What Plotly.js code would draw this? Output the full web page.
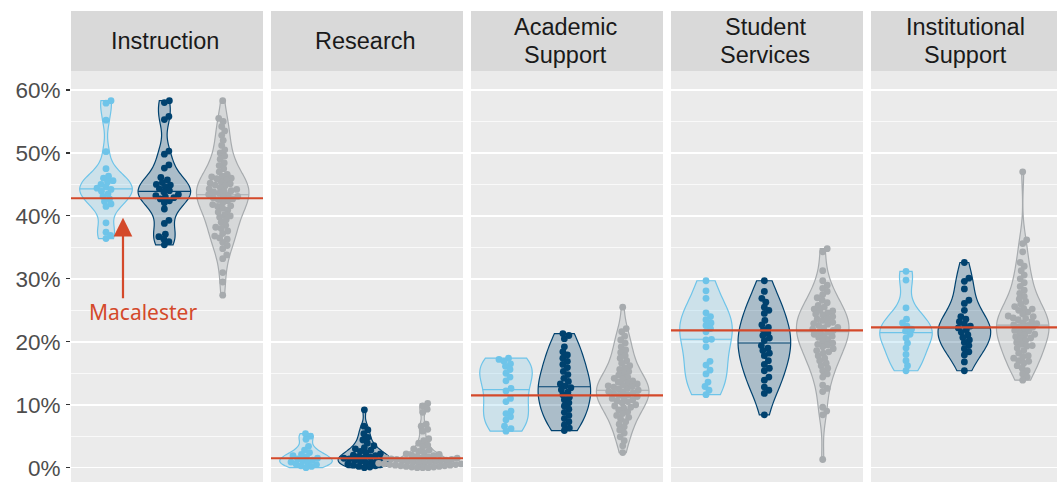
<!DOCTYPE html>
<html>
<head>
<meta charset="utf-8">
<script src="https://cdn.plot.ly/plotly-3.0.1.min.js"></script>
<style>html,body{margin:0;padding:0;background:#fff;}#chart{width:1057px;height:482px;}</style>
</head>
<body>
<div id="chart"></div>
<script>
// ---------------- DATA (percent of spending) ----------------
const categories = ['Instruction', 'Research', 'Academic<br>Support', 'Student<br>Services', 'Institutional<br>Support'];
const macalester = [42.8, 1.5, 11.5, 21.8, 22.3];

const instructionLight = [58.3, 57.9, 55.2, 50.2, 47.5, 46.3, 46.0, 45.6, 45.4, 45.0, 44.6, 44.4, 44.2, 43.9, 43.5, 43.1, 42.7, 42.3, 41.9, 41.5, 38.9, 37.4, 36.9, 36.4];
const instructionDark = [58.3, 58.0, 55.8, 55.3, 50.3, 49.8, 48.1, 47.6, 46.1, 45.7, 45.3, 45.0, 44.9, 44.6, 44.3, 44.0, 43.8, 43.4, 43.2, 43.0, 42.9, 42.7, 42.4, 42.1, 41.1, 39.3, 38.8, 37.1, 36.7, 36.3, 35.9, 35.4];
const instructionGray = [58.3, 55.5, 55.0, 54.2, 53.5, 52.8, 52.0, 51.2, 50.5, 50.0, 49.5, 49.0, 48.4, 48.0, 47.5, 47.0, 46.6, 46.3, 46.0, 45.7, 45.4, 45.1, 44.8, 44.5, 44.2, 43.9, 43.6, 43.3, 43.0, 42.7, 42.4, 42.1, 41.8, 41.5, 41.2, 40.9, 40.6, 40.2, 39.8, 39.4, 39.0, 38.5, 38.0, 37.6, 37.2, 36.8, 36.3, 35.8, 35.3, 34.8, 33.8, 33.2, 31.0, 29.5, 27.4, 46.2, 45.2, 44.9, 44.3, 43.8, 43.1, 42.6, 42.9, 41.6, 45.9, 44.0, 43.4, 40.0, 38.2, 36.5];

const researchLight = [5.4, 5.0, 4.5, 3.4, 2.8, 2.4, 2.1, 1.9, 1.7, 1.5, 1.4, 1.2, 1.1, 0.9, 0.8, 0.6, 0.5, 0.3, 0.2, 0.0];
const researchDark = [9.2, 6.6, 6.0, 5.4, 4.8, 4.4, 3.9, 3.5, 3.2, 3.0, 2.8, 2.6, 2.4, 2.2, 2.0, 1.9, 1.8, 1.7, 1.6, 1.5, 1.4, 1.3, 1.2, 1.1, 1.0, 0.9, 0.8, 0.7, 0.6, 0.5, 0.4, 0.3, 0.2, 0.1, 0.0];
const researchGray = [10.2, 9.8, 9.3, 8.8, 6.9, 6.6, 6.1, 5.8, 4.6, 4.3, 3.9, 3.6, 3.3, 3.0, 2.8, 2.6, 2.4, 2.2, 2.1, 2.0, 1.9, 1.8, 1.7, 1.6, 1.5, 1.5, 1.4, 1.3, 1.3, 1.2, 1.1, 1.1, 1.0, 1.0, 0.9, 0.9, 0.8, 0.8, 0.7, 0.7, 0.6, 0.6, 0.5, 0.5, 0.4, 0.4, 0.3, 0.3, 0.2, 0.2, 0.1, 0.1, 0.0, 0.0, 0.0];

const academicLight = [17.4, 17.2, 16.9, 16.5, 16.1, 15.6, 15.0, 14.4, 13.8, 12.6, 12.2, 11.0, 10.5, 9.0, 8.6, 8.1, 7.6, 6.6, 6.2, 5.8];
const academicDark = [21.3, 21.0, 20.5, 19.2, 18.4, 17.9, 17.4, 16.9, 16.4, 15.9, 15.3, 14.8, 14.2, 13.7, 13.3, 13.0, 12.7, 12.4, 12.0, 11.6, 11.2, 10.8, 10.3, 9.8, 9.3, 8.8, 8.3, 7.8, 7.3, 6.8, 6.3, 5.9];
const academicGray = [25.5, 22.1, 21.6, 20.9, 20.3, 19.8, 19.2, 18.7, 18.3, 17.8, 17.4, 17.0, 16.6, 16.2, 15.9, 15.6, 15.3, 15.0, 14.7, 14.4, 14.1, 13.8, 13.5, 13.3, 13.0, 12.8, 12.5, 12.3, 12.0, 11.8, 11.5, 11.3, 11.0, 10.8, 10.5, 10.3, 10.0, 9.8, 9.5, 9.2, 8.9, 8.6, 8.3, 8.0, 7.7, 7.3, 6.9, 6.5, 6.0, 5.5, 4.9, 4.3, 3.5, 2.4, 12.6, 11.6, 13.1, 12.1, 11.1, 10.6, 13.6, 14.2, 9.6, 12.9, 11.9];

const studentLight = [29.7, 28.1, 26.9, 24.6, 24.0, 23.5, 23.0, 22.6, 22.1, 21.6, 20.4, 20.3, 19.2, 16.9, 16.3, 15.5, 14.9, 13.6, 12.9, 12.3, 11.6];
const studentDark = [29.7, 28.0, 26.9, 26.3, 25.5, 25.0, 24.5, 23.4, 22.7, 22.3, 21.9, 21.4, 21.0, 20.6, 20.2, 19.4, 19.0, 18.6, 18.2, 17.8, 17.0, 16.4, 15.8, 15.4, 14.4, 13.9, 12.8, 12.3, 11.8, 8.4];
const studentGray = [34.8, 34.3, 31.3, 29.7, 29.0, 28.5, 28.0, 27.5, 27.0, 26.6, 26.2, 25.8, 25.5, 25.2, 24.9, 24.6, 24.3, 24.0, 23.7, 23.4, 23.1, 22.8, 22.6, 22.3, 22.0, 21.8, 21.5, 21.2, 21.0, 20.7, 20.4, 20.1, 19.8, 19.5, 19.2, 18.9, 18.6, 18.2, 17.8, 17.4, 17.0, 16.6, 16.2, 15.8, 15.4, 14.9, 14.4, 13.1, 12.6, 12.1, 9.6, 9.0, 8.4, 1.3, 22.2, 23.6, 21.6, 24.4, 20.9, 19.6, 22.9, 25.0, 18.4];

const institutionalLight = [31.2, 29.8, 25.4, 23.6, 23.0, 22.5, 22.0, 21.7, 21.2, 20.6, 19.8, 19.0, 18.0, 17.0, 16.2, 15.4];
const institutionalDark = [32.6, 30.1, 29.6, 28.4, 26.6, 26.1, 25.0, 24.0, 23.6, 23.2, 22.8, 22.5, 22.2, 21.9, 21.5, 21.1, 20.7, 20.3, 19.9, 19.4, 18.9, 18.4, 17.9, 16.8, 15.4];
const institutionalGray = [47.0, 36.2, 35.6, 34.3, 32.6, 32.0, 31.3, 30.6, 30.0, 29.4, 28.8, 28.2, 27.7, 27.2, 26.8, 26.4, 26.0, 25.6, 25.3, 25.0, 24.7, 24.4, 24.1, 23.8, 23.5, 23.2, 22.9, 22.6, 22.3, 22.0, 21.7, 21.4, 21.1, 20.8, 20.5, 20.2, 19.9, 19.6, 19.3, 19.0, 18.6, 18.2, 17.8, 17.4, 17.0, 16.6, 16.2, 15.8, 15.4, 14.9, 14.4, 13.9, 23.0, 22.4, 21.8, 24.0, 20.6, 21.2, 25.2, 19.4, 22.7, 23.7, 17.6, 16.9];

const yTicks = [0, 10, 20, 30, 40, 50, 60];

// ---------------- STYLE / LAYOUT ----------------
const W = 1057, H = 482;
const panelStarts = [71, 271, 471, 671, 871];
const PW = 192;
const PX_PER_UNIT = 58.35;   // px per category step
const PX_PER_PCT = 6.295;    // px per 1 %
const plotTop = 71, zeroY = 467.7, stripTop = 11;
const stripMid = 41, stripLineGap = 13.7;
const VW = 0.9;              // violin width (category units)
const BW_ADJUST = 1.2;
const colors = ['#6EC4E9', '#00426F', '#A7ABAE'];
const fills = ['rgba(110,196,233,0.25)', 'rgba(0,66,111,0.27)', 'rgba(167,171,174,0.3)'];
const red = '#D4492A';

const panels = [
  [instructionLight, instructionDark, instructionGray],
  [researchLight, researchDark, researchGray],
  [academicLight, academicDark, academicGray],
  [studentLight, studentDark, studentGray],
  [institutionalLight, institutionalDark, institutionalGray]
];

function sorted(v) { return v.slice().sort((a, b) => a - b); }
function quant(s, p) { const n = s.length, h = (n - 1) * p, lo = Math.floor(h); return s[lo] + (h - lo) * (s[Math.min(lo + 1, n - 1)] - s[lo]); }
function nrd0(v) {
  const s = sorted(v), n = s.length;
  const mean = s.reduce((a, b) => a + b, 0) / n;
  const sd = Math.sqrt(s.reduce((a, b) => a + (b - mean) * (b - mean), 0) / (n - 1));
  const iqr = quant(s, 0.75) - quant(s, 0.25);
  let lo = Math.min(sd, iqr / 1.34);
  if (!(lo > 0)) lo = sd || 1;
  return 0.9 * lo * Math.pow(n, -0.2);
}
function kde(v, bw, y) { let s = 0; for (const x of v) { const z = (y - x) / bw; s += Math.exp(-0.5 * z * z); } return s; }

function swarm(vals, D) {
  const idx = vals.map((v, i) => i).sort((a, b) => vals[a] - vals[b]);
  const placed = [];
  const off = new Array(vals.length);
  for (const i of idx) {
    const py = vals[i] * PX_PER_PCT;
    let best = 0;
    for (let k = 0; k < 400; k++) {
      const cand = (k % 2 === 1 ? 1 : -1) * Math.ceil(k / 2) * 0.5;
      let ok = true;
      for (const p of placed) {
        const dy = py - p.y, dx = cand - p.x;
        if (dx * dx + dy * dy < D * D) { ok = false; break; }
      }
      if (ok) { best = cand; break; }
    }
    placed.push({ x: best, y: py });
    off[i] = best / PX_PER_UNIT;
  }
  return off;
}

const yRange = [(zeroY - H) / PX_PER_PCT, (zeroY - plotTop) / PX_PER_PCT];
const yDomTop = (H - plotTop) / H;
const stripDom = [yDomTop, (H - stripTop) / H];

const violinTraces = [], lineTraces = [], pointTraces = [];
const layout = {
  width: W, height: H,
  margin: { l: 0, r: 0, t: 0, b: 0, pad: 0 },
  paper_bgcolor: '#FFFFFF',
  plot_bgcolor: '#EBEBEB',
  showlegend: false,
  violinmode: 'overlay', violingap: 0, violingroupgap: 0,
  font: { family: 'Liberation Sans, Arial, sans-serif', color: '#4D4D4D' },
  shapes: [], annotations: []
};

panels.forEach((groups, pi) => {
  const n = pi + 1;
  const xa = n === 1 ? 'x' : 'x' + n, ya = n === 1 ? 'y' : 'y' + n;
  const xk = n === 1 ? 'xaxis' : 'xaxis' + n, yk = n === 1 ? 'yaxis' : 'yaxis' + n;
  const x0 = panelStarts[pi];
  const x1 = Math.min(W, x0 + PW);
  layout[xk] = {
    domain: [x0 / W, x1 / W], anchor: ya,
    range: [-0.6, -0.6 + (x1 - x0) / PX_PER_UNIT],
    showgrid: false, zeroline: false, showticklabels: false, ticks: '', showline: false, fixedrange: true
  };
  layout[yk] = {
    domain: [0, yDomTop], anchor: xa, range: yRange,
    tickvals: yTicks, ticktext: yTicks.map(t => t + '%'),
    showticklabels: pi === 0, ticks: pi === 0 ? 'outside' : '', ticklen: 4, tickwidth: 1.1, tickcolor: '#333333',
    tickfont: { size: 22.5, color: '#4D4D4D', family: 'Liberation Sans, Arial, sans-serif' },
    ticklabelstandoff: 1,
    showgrid: true, gridcolor: '#FFFFFF', gridwidth: 1.5, zeroline: false, showline: false,
    minor: { dtick: 5, tick0: 0, showgrid: true, gridcolor: '#FFFFFF', gridwidth: 0.7, ticks: '' },
    automargin: false, fixedrange: true
  };

  groups.forEach((vals, gi) => {
    const bw = nrd0(vals) * BW_ADJUST;
    violinTraces.push({
      type: 'violin', xaxis: xa, yaxis: ya,
      x: vals.map(() => gi), y: vals,
      width: VW, scalemode: 'width', spanmode: 'hard',
      bandwidth: bw,
      points: false, box: { visible: false }, meanline: { visible: false },
      line: { color: colors[gi], width: 1.2 },
      fillcolor: fills[gi], hoverinfo: 'skip'
    });
    // median line across the violin, width from the same density estimate
    const s = sorted(vals);
    const med = quant(s, 0.5);
    let dmax = 0;
    for (let k = 0; k <= 400; k++) { const y = s[0] + (s[s.length - 1] - s[0]) * k / 400; dmax = Math.max(dmax, kde(vals, bw, y)); }
    const hw = (VW / 2) * kde(vals, bw, med) / dmax;
    lineTraces.push({
      type: 'scatter', mode: 'lines', xaxis: xa, yaxis: ya,
      x: [gi - hw, gi + hw], y: [med, med],
      line: { color: colors[gi], width: 1.1 }, hoverinfo: 'skip'
    });
    const off = swarm(vals, 5.2);
    pointTraces.push({
      type: 'scatter', mode: 'markers', xaxis: xa, yaxis: ya,
      x: vals.map((v, i) => gi + off[i]), y: vals,
      marker: { size: 6.8, color: colors[gi], line: { width: 0 } },
      hoverinfo: 'skip'
    });
  });

  // Macalester reference line
  layout.shapes.push({
    type: 'line', xref: xa + ' domain', yref: ya, x0: 0, x1: 1,
    y0: macalester[pi], y1: macalester[pi], line: { color: red, width: 2.2 }, layer: 'above'
  });
  // strip
  layout.shapes.push({
    type: 'rect', xref: 'paper', yref: 'paper', x0: x0 / W, x1: x1 / W,
    y0: stripDom[0], y1: stripDom[1], fillcolor: '#D9D9D9', line: { width: 0 }, layer: 'below'
  });
  const lines = categories[pi].split('<br>');
  lines.forEach((txt, li) => {
    const cy = stripMid + (lines.length === 1 ? 0 : (li === 0 ? -stripLineGap : stripLineGap));
    layout.annotations.push({
      xref: 'paper', yref: 'paper', x: (x0 + PW / 2 - 2) / W, y: (H - cy) / H,
      xanchor: 'center', yanchor: 'middle', text: txt, showarrow: false,
      font: { size: 23.5, color: '#1A1A1A', family: 'Liberation Sans, Arial, sans-serif' }
    });
  });
});

// Macalester annotation + arrow (panel 1)
layout.annotations.push({
  xref: 'x', yref: 'y', x: 0.64, y: macalester[0] - 18.1, text: 'Macalester', showarrow: false,
  xanchor: 'center', yanchor: 'middle',
  font: { size: 21, color: red, family: 'Noto Sans, Open Sans, sans-serif' }
});
layout.annotations.push({
  xref: 'x', yref: 'y', x: 0.291, y: macalester[0] - 3.1, text: '', showarrow: true,
  axref: 'pixel', ayref: 'pixel', ax: 0, ay: 82,
  arrowhead: 2, arrowsize: 1.7, arrowwidth: 2.2, arrowcolor: red, standoff: 0
});

Plotly.newPlot('chart', violinTraces.concat(lineTraces, pointTraces), layout, { displayModeBar: false, staticPlot: true });
</script>
</body>
</html>
